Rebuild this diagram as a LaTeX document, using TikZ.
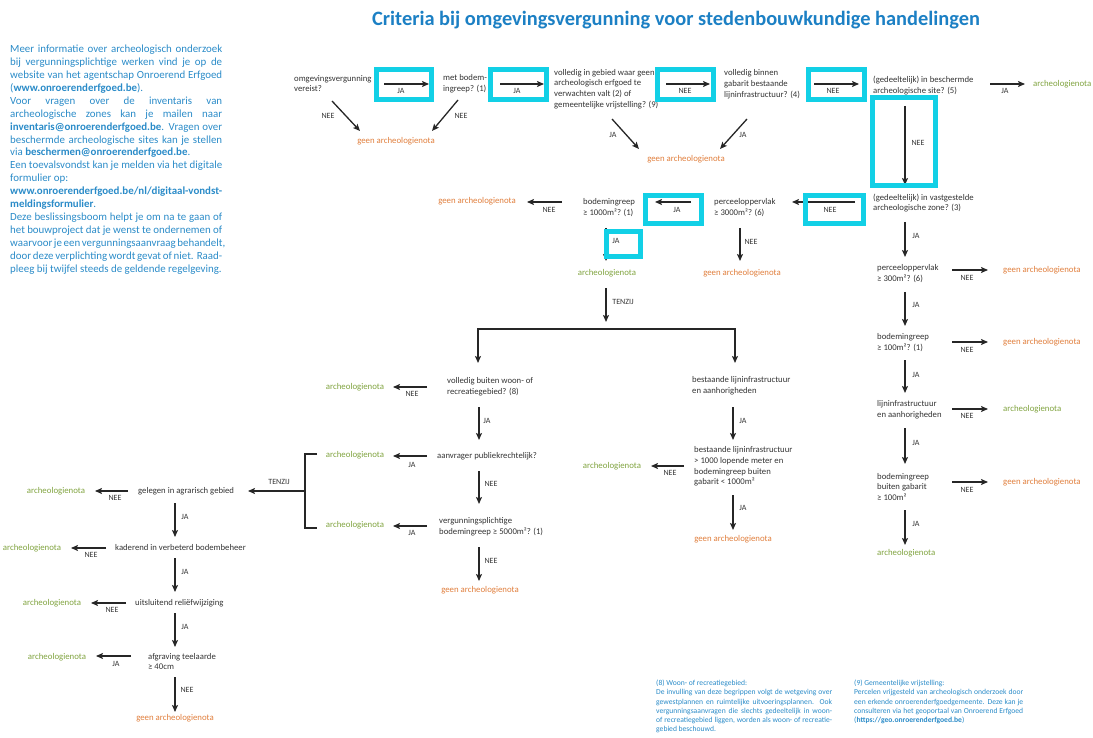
\documentclass[tikz,border=0pt]{standalone}
\usepackage{fontspec}
\setmainfont{Carlito}
\usetikzlibrary{arrows.meta}
\definecolor{tblue}{HTML}{1C80C4}
\definecolor{iblue}{HTML}{2A8BC8}
\definecolor{txtc}{HTML}{333333}
\definecolor{orng}{HTML}{E07E3C}
\definecolor{grn}{HTML}{80A33F}
\definecolor{cyanb}{HTML}{12D0E6}
\definecolor{arc}{HTML}{262626}
\tikzset{
 arr/.style={draw=arc, line width=1.3pt, -{Stealth[length=7pt,width=6pt,inset=1.5pt]}},
 biarr/.style={draw=arc, line width=1.3pt, {Stealth[length=7pt,width=6pt,inset=1.5pt]}-{Stealth[length=7pt,width=6pt,inset=1.5pt]}},
 plain/.style={draw=arc, line width=1.3pt},
 qbox/.style={anchor=west, align=left, inner sep=0pt, text=txtc, font=\fontsize{8.7}{10.8}\selectfont},
 lbl/.style={inner sep=0pt, text=txtc, font=\fontsize{8}{8}\selectfont},
 geenn/.style={inner sep=0pt, text=orng, font=\fontsize{8.8}{10}\selectfont},
 nota/.style={inner sep=0pt, text=grn, font=\fontsize{8.8}{10}\selectfont},
 hl/.style={draw=cyanb, line width=5pt},
}
\newcommand\myarr[5]{\coordinate (#1s) at (#2);\coordinate (#1e) at (#3);\draw[arr] (#1s) -- (#1e);\node[lbl] (#1l) at (#4) {#5};}
\newcommand\jw[2]{\hbox to #1{#2}}
\begin{document}
\begin{tikzpicture}[x=1pt,y=-1pt]
\useasboundingbox (0,0) rectangle (1093,738);
% title
\node[inner sep=0pt, text=tblue, font=\fontsize{20.4}{22}\selectfont\bfseries] (title) at (676,20) {Criteria bij omgevingsvergunning voor stedenbouwkundige handelingen};
% info block
\node[anchor=north west, align=left, inner sep=0pt, text=iblue, font=\fontsize{10.9}{12.9}\selectfont] (info) at (10,45) {%
\jw{212pt}{Meer informatie over archeologisch onderzoek}\\
\jw{212pt}{bij vergunningsplichtige werken vind je op de}\\
\jw{212pt}{website van het agentschap Onroerend Erfgoed}\\
(\textbf{www.onroerenderfgoed.be}).\\
\jw{212pt}{Voor vragen over de inventaris van}\\
\jw{212pt}{archeologische zones kan je mailen naar}\\
\jw{212pt}{\textbf{inventaris@onroerenderfgoed.be}. Vragen over}\\
\jw{212pt}{beschermde archeologische sites kan je stellen}\\
via \textbf{beschermen@onroerenderfgoed.be}.\\
\jw{212pt}{Een toevalsvondst kan je melden via het digitale}\\
formulier op:\\
\textbf{www.onroerenderfgoed.be/nl/digitaal-vondst-}\\
\textbf{meldingsformulier}.\\
\jw{212pt}{Deze beslissingsboom helpt je om na te gaan of}\\
\jw{212pt}{het bouwproject dat je wenst te ondernemen of}\\
\jw{212pt}{waarvoor je een vergunningsaanvraag behandelt,}\\
\jw{212pt}{door deze verplichting wordt gevat of niet. Raad-}\\
pleeg bij twijfel steeds de geldende regelgeving.};
% top row
\node[qbox] (n1) at (294,83.5) {omgevingsvergunning\\vereist?};
\node[qbox] (n2) at (443,83.5) {met bodem-\\ingreep? (1)};
\node[qbox] (n3) at (554,89) {volledig in gebied waar geen\\archeologisch erfgoed te\\verwachten valt (2) of\\gemeentelijke vrijstelling? (9)};
\node[qbox] (n4) at (724,84) {volledig binnen\\gabarit bestaande\\lijninfrastructuur? (4)};
\node[qbox] (n5) at (873,85.5) {(gedeeltelijk) in beschermde\\archeologische site? (5)};
\node[nota, anchor=west] (o1) at (1033,84) {archeologienota};
\myarr{a1}{384,84}{429,84}{401,91}{JA}
\myarr{a2}{500,84}{544,84}{517,91}{JA}
\myarr{a3}{666,84}{710,84}{685,91}{NEE}
\myarr{a4}{814,84}{859,84}{833,91}{NEE}
\myarr{a5}{990,84}{1025,84}{1005,91}{JA}
\node[geenn] (g1) at (396,141) {geen archeologienota};
\node[geenn] (g2) at (686,159) {geen archeologienota};
\myarr{d1}{332,101}{360,131}{328,116}{NEE}
\myarr{d2}{458,100}{432,131}{461,116}{NEE}
\myarr{d3}{612,119}{639,149}{613,135}{JA}
\myarr{d4}{747,119}{720,149}{743,135}{JA}
\myarr{v1}{905,106}{905,185}{918,143}{NEE}
% second row
\node[qbox] (n6) at (873,203) {(gedeeltelijk) in vastgestelde\\archeologische zone? (3)};
\node[qbox] (n7) at (714,207.5) {perceeloppervlak\\≥ 3000m²? (6)};
\node[qbox] (n8) at (583,207.5) {bodemingreep\\≥ 1000m²? (1)};
\node[geenn] (g3) at (477,201) {geen archeologienota};
\myarr{h6}{855,202}{792,202}{830,210}{NEE}
\myarr{h7}{691,202}{655,202}{677,210}{JA}
\myarr{h8}{562,202}{527,202}{549,210}{NEE}
\myarr{v8}{606,228}{606,261}{616,241}{JA}
\node[nota] (o8) at (607,273) {archeologienota};
\myarr{v7}{740,228}{740,261}{751,242}{NEE}
\node[geenn] (g4) at (742,273) {geen archeologienota};
% tenzij split
\myarr{t1}{606,288}{606,322}{623,302}{TENZIJ}
\coordinate (sL) at (478,363);
\coordinate (sM) at (606,329);
\coordinate (sR) at (735,363);
\draw[biarr] (sL) |- (sM) -| (sR);
% left middle branch
\node[qbox] (n13) at (447,387) {volledig buiten woon- of\\recreatiegebied? (8)};
\myarr{h13}{427,387}{393,387}{412,394}{NEE}
\node[nota] (o13) at (355,387) {archeologienota};
\myarr{v13}{479,407}{479,440}{487,421}{JA}
\node[qbox] (n14) at (437,456) {aanvrager publiekrechtelijk?};
\myarr{h14}{427,456}{393,456}{412,465}{JA}
\node[nota] (o14) at (355,455) {archeologienota};
\myarr{v14}{479,471}{479,504}{491,484}{NEE}
\node[qbox] (n15) at (439,527) {vergunningsplichtige\\bodemingreep ≥ 5000m²? (1)};
\myarr{h15}{427,526}{393,526}{412,533}{JA}
\node[nota] (o15) at (355,525) {archeologienota};
\myarr{v15}{479,547}{479,581}{491,561}{NEE}
\node[geenn] (g5) at (480,590) {geen archeologienota};
% bracket
\coordinate (bT) at (317,454);
\coordinate (bB) at (317,528);
\coordinate (bM) at (305,491);
\draw[plain] (bT) -- (305,454) -- (305,528) -- (bB);
\coordinate (bE) at (248,491);
\draw[arr] (bM) -- (bE);
\node[lbl] (bl) at (279,482) {TENZIJ};
% right middle branch
\node[qbox] (n16) at (692,386) {bestaande lijninfrastructuur\\en aanhorigheden};
\myarr{v16}{733,407}{733,440}{743,421}{JA}
\node[qbox] (n17) at (694,466.5) {bestaande lijninfrastructuur\\> 1000 lopende meter en\\bodemingreep buiten\\gabarit < 1000m²};
\myarr{h17}{684,466}{651,466}{670,473}{NEE}
\node[nota] (o17) at (612,466) {archeologienota};
\myarr{v17}{733,495}{733,530}{743,508}{JA}
\node[geenn] (g6) at (733,539) {geen archeologienota};
% right column
\myarr{v6}{905,222}{905,257}{916,236}{JA}
\node[qbox] (n9) at (877,273.5) {perceeloppervlak\\≥ 300m²? (6)};
\myarr{h9}{952,270}{988,270}{967,278}{NEE}
\node[geenn, anchor=west] (g9) at (1003,270) {geen archeologienota};
\myarr{v9}{905,292}{905,326}{916,305}{JA}
\node[qbox] (n10) at (877,342.5) {bodemingreep\\≥ 100m²? (1)};
\myarr{h10}{952,342}{988,342}{967,350}{NEE}
\node[geenn, anchor=west] (g10) at (1003,342) {geen archeologienota};
\myarr{v10}{905,360}{905,393}{916,375}{JA}
\node[qbox] (n11) at (877,410) {lijninfrastructuur\\en aanhorigheden};
\myarr{h11}{952,409}{988,409}{967,416}{NEE}
\node[nota, anchor=west] (o11) at (1003,409) {archeologienota};
\myarr{v11}{905,428}{905,464}{916,443}{JA}
\node[qbox] (n12) at (877,487) {bodemingreep\\buiten gabarit\\≥ 100m²};
\myarr{h12}{952,482}{988,482}{967,490}{NEE}
\node[geenn, anchor=west] (g12) at (1003,482) {geen archeologienota};
\myarr{v12}{905,510}{905,545}{916,524}{JA}
\node[nota, anchor=west] (o12) at (877,553) {archeologienota};
% bottom left
\node[qbox] (n18) at (138,491) {gelegen in agrarisch gebied};
\myarr{h18}{128,491}{95,491}{115,498}{NEE}
\node[nota] (o18) at (56,491) {archeologienota};
\myarr{v18}{175,503}{175,537}{185,517}{JA}
\node[qbox] (n19) at (115,548) {kaderend in verbeterd bodembeheer};
\myarr{h19}{106,548}{71,548}{91,555}{NEE}
\node[nota] (o19) at (32,548) {archeologienota};
\myarr{v19}{175,558}{175,592}{185,572}{JA}
\node[qbox] (n20) at (135,603) {uitsluitend reliëfwijziging};
\myarr{h20}{126,603}{91,603}{112,610}{NEE}
\node[nota] (o20) at (52,603) {archeologienota};
\myarr{v20}{175,613}{175,647}{185,627}{JA}
\node[qbox] (n21) at (148,661.5) {afgraving teelaarde\\≥ 40cm};
\myarr{h21}{131,656}{96,656}{116,664}{JA}
\node[nota] (o21) at (57,657) {archeologienota};
\myarr{v21}{175,677}{175,712}{187,690}{NEE}
\node[geenn] (g21) at (175,718) {geen archeologienota};
% highlight boxes
\draw[hl] (376.5,69.5) rectangle (431,99.5);
\draw[hl] (490.5,69.5) rectangle (546.5,99.5);
\draw[hl] (657.5,69.5) rectangle (713,99.5);
\draw[hl] (808.5,70) rectangle (864,100);
\draw[hl] (872,97.5) rectangle (935,186);
\draw[hl] (805.5,195.5) rectangle (863.5,223.5);
\draw[hl] (645.5,195.5) rectangle (701.5,224);
\draw[hl] (606.5,231.5) rectangle (640,256.5);
% footnotes
\node[anchor=north west, align=left, inner sep=0pt, text=iblue, font=\fontsize{7.6}{9.2}\selectfont] (fn8) at (656,680) {%
(8) Woon- of recreatiegebied:\\
\jw{176pt}{De invulling van deze begrippen volgt de wetgeving over}\\
\jw{176pt}{gewestplannen en ruimtelijke uitvoeringsplannen. Ook}\\
\jw{176pt}{vergunningsaanvragen die slechts gedeeltelijk in woon-}\\
\jw{176pt}{of recreatiegebied liggen, worden als woon- of recreatie-}\\
gebied beschouwd.};
\node[anchor=north west, align=left, inner sep=0pt, text=iblue, font=\fontsize{7.6}{9.2}\selectfont] (fn9) at (854,680) {%
(9) Gemeentelijke vrijstelling:\\
\jw{169pt}{Percelen vrijgesteld van archeologisch onderzoek door}\\
\jw{169pt}{een erkende onroerenderfgoedgemeente. Deze kan je}\\
\jw{169pt}{consulteren via het geoportaal van Onroerend Erfgoed}\\
(\textbf{https://geo.onroerenderfgoed.be})};
\end{tikzpicture}
\end{document}
